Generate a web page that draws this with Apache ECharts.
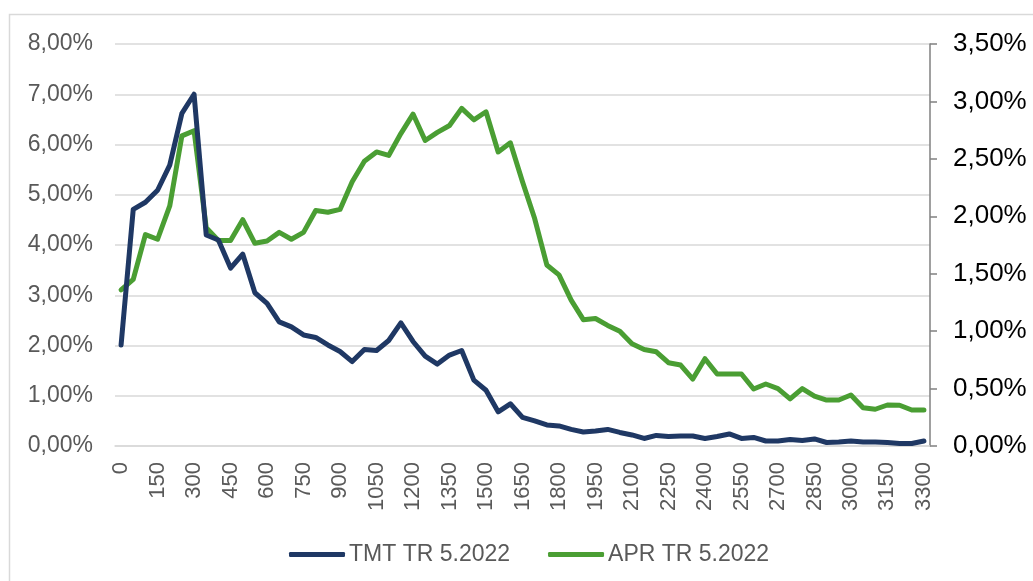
<!DOCTYPE html>
<html>
<head>
<meta charset="utf-8">
<script src="https://cdn.jsdelivr.net/npm/echarts@6/dist/echarts.min.js"></script>
<style>
html,body{margin:0;padding:0;background:#fff;}
#chart{width:1033px;height:581px;}
</style>
</head>
<body>
<div id="chart"></div>
<script>
// Categories (0..3300 step 50)
const categories = ['0','50','100','150','200','250','300','350','400','450','500','550','600','650','700','750','800','850','900','950','1000','1050','1100','1150','1200','1250','1300','1350','1400','1450','1500','1550','1600','1650','1700','1750','1800','1850','1900','1950','2000','2050','2100','2150','2200','2250','2300','2350','2400','2450','2500','2550','2600','2650','2700','2750','2800','2850','2900','2950','3000','3050','3100','3150','3200','3250','3300'];

// TMT TR 5.2022 (left axis, %)
const tmt = [2.01,4.71,4.85,5.09,5.59,6.62,7.00,4.20,4.10,3.54,3.82,3.05,2.84,2.47,2.37,2.21,2.16,2.01,1.88,1.68,1.92,1.90,2.10,2.45,2.08,1.79,1.63,1.81,1.90,1.31,1.11,0.68,0.84,0.57,0.50,0.42,0.40,0.33,0.28,0.30,0.33,0.27,0.22,0.15,0.21,0.19,0.20,0.20,0.15,0.19,0.24,0.15,0.17,0.10,0.10,0.13,0.11,0.14,0.07,0.08,0.10,0.08,0.08,0.07,0.05,0.05,0.10];

// APR TR 5.2022 (right axis, %)
const apr = [1.36,1.45,1.84,1.80,2.09,2.70,2.745,1.90,1.79,1.79,1.97,1.765,1.785,1.86,1.80,1.86,2.05,2.035,2.06,2.30,2.48,2.56,2.53,2.72,2.89,2.66,2.73,2.79,2.94,2.84,2.91,2.56,2.64,2.30,1.98,1.576,1.49,1.27,1.10,1.11,1.05,1.00,0.89,0.84,0.82,0.725,0.705,0.583,0.76,0.627,0.627,0.627,0.496,0.54,0.50,0.41,0.50,0.435,0.40,0.40,0.444,0.333,0.32,0.357,0.355,0.313,0.313];

const seriesNames = ['TMT TR 5.2022','APR TR 5.2022'];

const fmt = v => v.toFixed(2).replace('.', ',') + '%';
const FONT = 'Liberation Sans, Arial, sans-serif';

const chart = echarts.init(document.getElementById('chart'), null, {renderer:'canvas'});
chart.setOption({
  animation:false,
  backgroundColor:'#ffffff',
  textStyle:{fontFamily:FONT},
  graphic:[{
    type:'rect', shape:{x:9.5,y:14.5,width:1040,height:600},
    style:{fill:'none',stroke:'#d9d9d9',lineWidth:1.5}, silent:true
  }],
  grid:{left:115,right:103,top:44,bottom:135,containLabel:false},
  legend:{
    data:seriesNames, left:284, top:538,
    icon:'roundRect', itemWidth:56, itemHeight:5, itemGap:38,
    textStyle:{fontFamily:FONT,fontSize:23,color:'#595959',padding:[0,0,0,-1]}
  },
  xAxis:{
    type:'category', data:categories, boundaryGap:true,
    axisLine:{show:true,lineStyle:{color:'#d9d9d9',width:1.5}},
    axisTick:{show:false},
    axisLabel:{interval:2,rotate:90,margin:16,fontSize:22,color:'#595959',fontFamily:FONT}
  },
  yAxis:[{
    type:'value', min:0, max:8, interval:1, position:'left',
    axisLine:{show:false}, axisTick:{show:false},
    splitLine:{show:true,lineStyle:{color:'#d9d9d9',width:1.5}},
    axisLabel:{formatter:fmt,fontSize:23,color:'#595959',margin:22,fontFamily:FONT}
  },{
    type:'value', min:0, max:3.5, interval:0.5, position:'right',
    axisLine:{show:true,lineStyle:{color:'#808080',width:1.5}},
    axisTick:{show:true,inside:false,length:7,lineStyle:{color:'#808080',width:1.5}},
    splitLine:{show:false},
    axisLabel:{formatter:fmt,fontSize:26,color:'#000000',margin:23,fontFamily:FONT}
  }],
  series:[{
    name:seriesNames[0], type:'line', yAxisIndex:0, data:tmt,
    showSymbol:false, symbol:'none', z:3,
    lineStyle:{color:'#1F3864',width:5,cap:'round',join:'round'},
    itemStyle:{color:'#1F3864'}
  },{
    name:seriesNames[1], type:'line', yAxisIndex:1, data:apr,
    showSymbol:false, symbol:'none', z:2,
    lineStyle:{color:'#4A9E33',width:5,cap:'round',join:'round'},
    itemStyle:{color:'#4A9E33'}
  }]
});
</script>
</body>
</html>
